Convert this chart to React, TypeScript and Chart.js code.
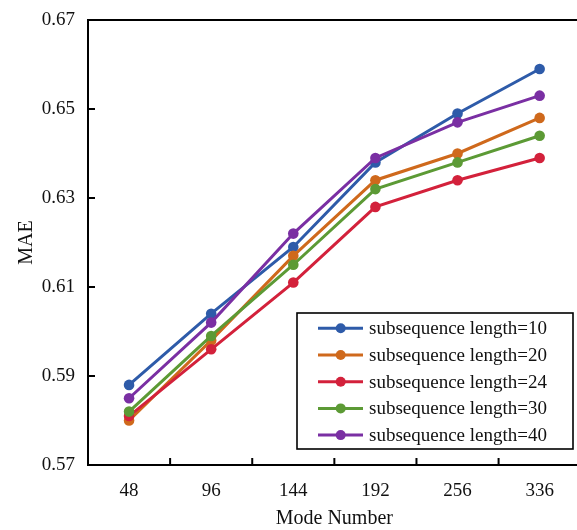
import React, { useEffect, useRef } from "react";
import { Chart, registerables } from "chart.js";

Chart.register(...registerables);

const categories = ["48", "96", "144", "192", "256", "336"];
const seriesLabels = [
  "subsequence length=10",
  "subsequence length=20",
  "subsequence length=24",
  "subsequence length=30",
  "subsequence length=40",
];
const len10 = [0.588, 0.604, 0.619, 0.638, 0.649, 0.659];
const len20 = [0.58, 0.598, 0.617, 0.634, 0.64, 0.648];
const len24 = [0.581, 0.596, 0.611, 0.628, 0.634, 0.639];
const len30 = [0.582, 0.599, 0.615, 0.632, 0.638, 0.644];
const len40 = [0.585, 0.602, 0.622, 0.639, 0.647, 0.653];
const seriesValues = [len10, len20, len24, len30, len40];
const seriesColors = ["#2E5BA9", "#CF691C", "#D3213B", "#5C9A35", "#7A2FA3"];
const yMin = 0.57;
const yMax = 0.67;
const yStep = 0.02;

const FONT = "'Liberation Serif', 'Times New Roman', serif";

const framePlugin = {
  id: "frame",
  afterDatasetsDraw(chart: any) {
    const { ctx, chartArea, scales } = chart;
    const { left, right, top, bottom } = chartArea;
    ctx.save();
    ctx.strokeStyle = "#000";
    ctx.lineWidth = 2;
    // top border
    ctx.beginPath();
    ctx.moveTo(left - 1, top);
    ctx.lineTo(right + 1, top);
    ctx.stroke();
    // inward y ticks
    const ys = scales.y;
    ys.ticks.forEach((t: any) => {
      const y = ys.getPixelForValue(t.value);
      if (Math.abs(y - top) < 1 || Math.abs(y - bottom) < 1) return;
      ctx.beginPath();
      ctx.moveTo(left, y);
      ctx.lineTo(left + 7, y);
      ctx.stroke();
    });
    // inward x ticks between categories
    const xs = scales.x;
    for (let i = 1; i < categories.length; i++) {
      const x = (xs.getPixelForTick(i - 1) + xs.getPixelForTick(i)) / 2;
      ctx.beginPath();
      ctx.moveTo(x, bottom);
      ctx.lineTo(x, bottom - 7);
      ctx.stroke();
    }
    // legend
    const bx = 297, by = 313, bw = 276, bh = 136;
    ctx.fillStyle = "#fff";
    ctx.fillRect(bx, by, bw, bh);
    ctx.lineWidth = 1.6;
    ctx.strokeStyle = "#000";
    ctx.strokeRect(bx, by, bw, bh);
    ctx.font = `19px ${FONT}`;
    ctx.textBaseline = "middle";
    ctx.textAlign = "left";
    seriesLabels.forEach((lab, i) => {
      const y = 328.3 + i * 26.7;
      ctx.strokeStyle = seriesColors[i];
      ctx.lineWidth = 3;
      ctx.beginPath();
      ctx.moveTo(318, y);
      ctx.lineTo(363, y);
      ctx.stroke();
      ctx.fillStyle = seriesColors[i];
      ctx.beginPath();
      ctx.arc(340.7, y, 5, 0, Math.PI * 2);
      ctx.fill();
      ctx.fillStyle = "#111";
      ctx.fillText(lab, 369, y + 1);
    });
    ctx.restore();
  },
};

export default function App() {
  const ref = useRef<HTMLCanvasElement>(null);
  useEffect(() => {
    if (!ref.current) return;
    const chart = new Chart(ref.current, {
      type: "line",
      data: {
        labels: categories,
        datasets: seriesValues.map((vals, i) => ({
          label: seriesLabels[i],
          data: vals,
          borderColor: seriesColors[i],
          backgroundColor: seriesColors[i],
          borderWidth: 3,
          pointRadius: 5.3,
          pointHoverRadius: 5.3,
          pointBorderWidth: 0,
          tension: 0,
          order: seriesValues.length - i,
        })),
      },
      options: {
        responsive: false,
        animation: false,
        devicePixelRatio: 1,
        layout: { padding: { top: 20, left: 0, right: 0, bottom: 0 } },
        plugins: {
          legend: { display: false },
          tooltip: { enabled: false },
        },
        scales: {
          x: {
            type: "category",
            offset: true,
            grid: { display: false, drawTicks: false },
            border: { display: true, color: "#000", width: 2 },
            ticks: {
              color: "#111",
              font: { family: FONT, size: 19 },
              padding: 15,
              maxRotation: 0,
            },
            title: {
              display: true,
              text: "Mode Number",
              color: "#111",
              font: { family: FONT, size: 20, lineHeight: 1.1 },
              padding: { top: 0, bottom: 0 },
            },
            afterFit: (s: any) => {
              s.height = 65;
              s.paddingLeft = 0;
              s.paddingRight = 0;
            },
          },
          y: {
            min: yMin,
            max: yMax,
            grid: { display: false, drawTicks: false },
            border: { display: true, color: "#000", width: 2 },
            ticks: {
              stepSize: yStep,
              color: "#111",
              font: { family: FONT, size: 19 },
              padding: 13,
              callback: (v: any) => Number(v).toFixed(2),
            },
            title: {
              display: true,
              text: "MAE",
              color: "#111",
              font: { family: FONT, size: 20 },
              padding: { top: 15, bottom: 0 },
            },
            afterFit: (s: any) => {
              s.width = 88;
              s.paddingTop = 0;
              s.paddingBottom = 0;
            },
          },
        },
      },
      plugins: [framePlugin],
    });
    return () => chart.destroy();
  }, []);
  return (
    <div
      style={{
        position: "fixed",
        left: 0,
        top: 0,
        width: 577,
        height: 530,
        overflow: "hidden",
        background: "#fff",
      }}
    >
      <canvas ref={ref} width={586} height={530} style={{ display: "block" }} />
    </div>
  );
}
